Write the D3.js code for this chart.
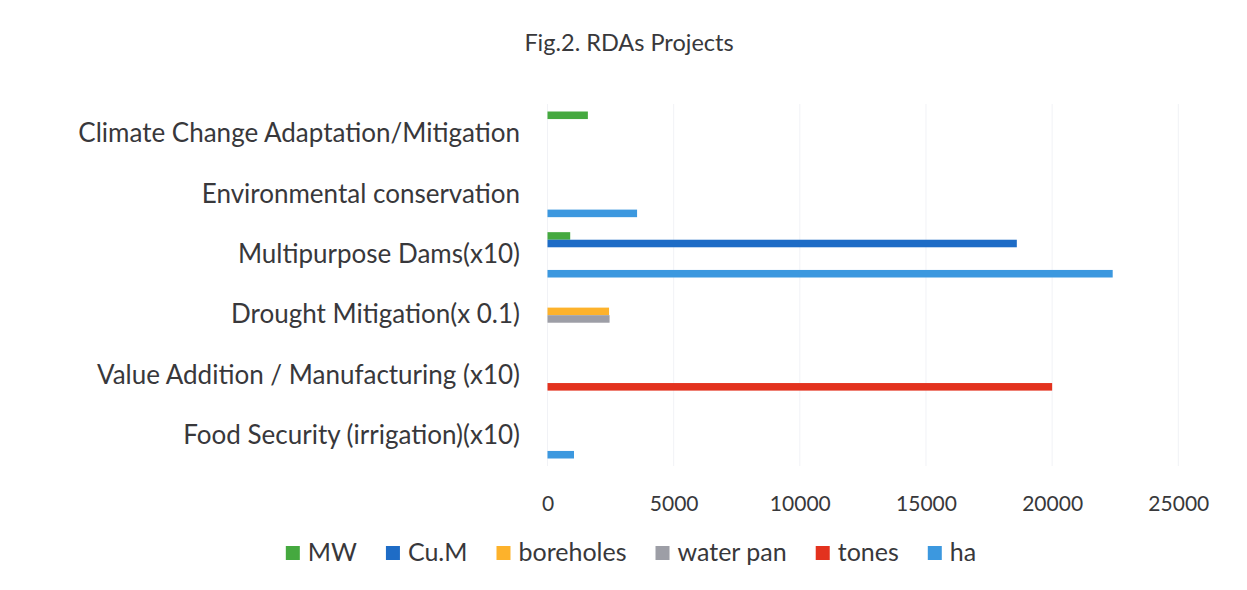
<!DOCTYPE html>
<html>
<head>
<meta charset="utf-8">
<script src="https://cdn.jsdelivr.net/npm/d3@7"></script>
<style>
  html, body { margin: 0; padding: 0; background: #ffffff; }
  svg { display: block; }
  text { font-family: Lato, "Open Sans", sans-serif; fill: #38383b; }
</style>
</head>
<body>
<svg id="chart" width="1247" height="590"></svg>
<script>
// Categories, top to bottom as drawn
const categories = [
  "Climate Change Adaptation/Mitigation",
  "Environmental conservation",
  "Multipurpose Dams(x10)",
  "Drought Mitigation(x 0.1)",
  "Value Addition / Manufacturing (x10)",
  "Food Security (irrigation)(x10)"
];

// Series names (legend order) and colours
const seriesNames = ["MW", "Cu.M", "boreholes", "water pan", "tones", "ha"];
const seriesColors = ["#45a93f", "#1e6cc6", "#fdb22b", "#9d9ea6", "#e3321e", "#3c98df"];

// Values per series, one entry per category (null = no bar)
const mwValues       = [1600, null,  900,  null, null,  null];
const cumValues      = [null, null, 18600, null, null,  null];
const boreholeValues = [null, null,  null, 2440, null,  null];
const waterPanValues = [null, null,  null, 2460, null,  null];
const tonesValues    = [null, null,  null, null, 20000, null];
const haValues       = [null, 3550, 22400, null, null,  1050];

const seriesValues = [mwValues, cumValues, boreholeValues, waterPanValues, tonesValues, haValues];

// X axis ticks
const xTicks = [0, 5000, 10000, 15000, 20000, 25000];

const svg = d3.select("#chart");

// Title
svg.append("text")
  .attr("x", 629).attr("y", 51)
  .attr("text-anchor", "middle")
  .style("font-size", "23.5px")
  .text("Fig.2. RDAs Projects");

const x = d3.scaleLinear().domain([0, 25000]).range([547.5, 1178.3]);
const y = d3.scaleBand().domain(categories).range([104, 466]);
const inner = d3.scaleBand().domain(seriesNames)
  .range([7.5, y.bandwidth() - 7.5]);

// Vertical gridlines
svg.append("g").selectAll("line")
  .data(xTicks)
  .join("line")
  .attr("x1", d => x(d)).attr("x2", d => x(d))
  .attr("y1", 104).attr("y2", 466)
  .attr("stroke", "#f1f2f6").attr("stroke-width", 1);

// Bars
const rows = [];
seriesNames.forEach((s, si) => {
  categories.forEach((c, ci) => {
    const v = seriesValues[si][ci];
    if (v != null) rows.push({ series: s, category: c, value: v, color: seriesColors[si] });
  });
});

svg.append("g").selectAll("rect")
  .data(rows)
  .join("rect")
  .attr("x", x(0))
  .attr("y", d => y(d.category) + inner(d.series))
  .attr("width", d => x(d.value) - x(0))
  .attr("height", inner.bandwidth())
  .attr("fill", d => d.color);

// Category labels
const yAxis = d3.axisLeft(y).tickSize(0).tickPadding(27.5);
const gy = svg.append("g").attr("transform", `translate(${x(0)},0)`).call(yAxis);
gy.select(".domain").remove();
gy.selectAll("text")
  .style("font-size", "26px")
  .style("font-family", "Lato, 'Open Sans', sans-serif")
  .attr("fill", "#38383b");

// X tick labels
const xAxis = d3.axisBottom(x).tickValues(xTicks).tickSize(0).tickPadding(0).tickFormat(d3.format("d"));
const gx = svg.append("g").attr("transform", "translate(0,511)").call(xAxis);
gx.select(".domain").remove();
gx.selectAll("text")
  .attr("y", 0).attr("dy", null)
  .style("font-size", "21px")
  .style("font-family", "Lato, 'Open Sans', sans-serif")
  .attr("fill", "#38383b");

// Legend
const legend = svg.append("g");
const items = legend.selectAll("g")
  .data(seriesNames)
  .join("g");
items.append("rect")
  .attr("width", 14).attr("height", 14)
  .attr("y", -15)
  .attr("fill", (d, i) => seriesColors[i]);
items.append("text")
  .attr("x", 22).attr("y", 0)
  .style("font-size", "25px")
  .text(d => d);

let cursor = 0;
const gap = 29;
items.each(function () {
  const g = d3.select(this);
  g.attr("transform", `translate(${cursor},0)`);
  cursor += 22 + g.select("text").node().getComputedTextLength() + gap;
});
const total = cursor - gap;
legend.attr("transform", `translate(${631 - total / 2},561)`);
</script>
</body>
</html>
